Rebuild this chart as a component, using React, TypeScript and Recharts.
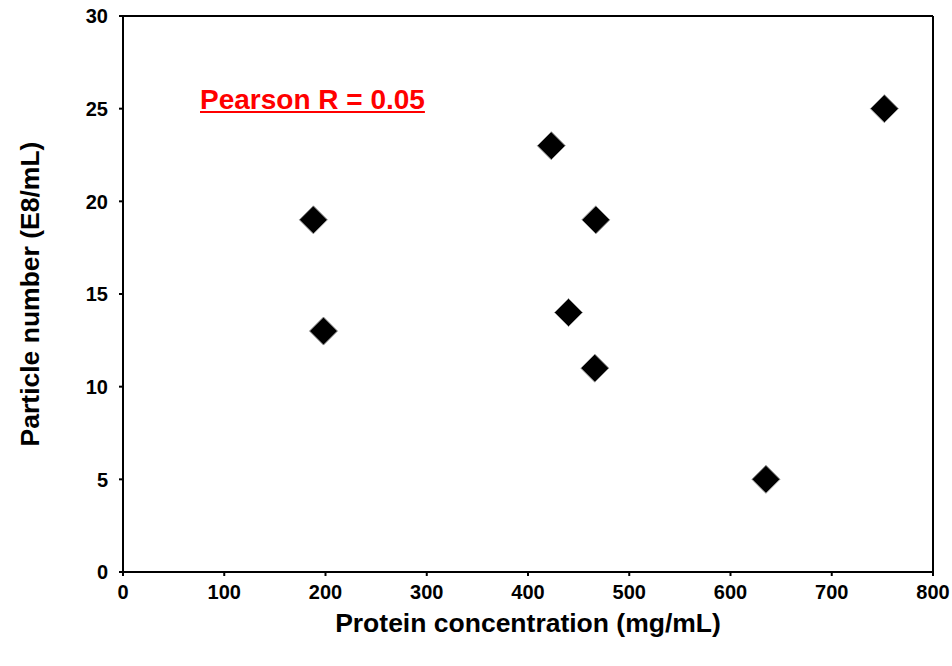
import {
  ScatterChart,
  Scatter,
  XAxis,
  YAxis,
  ReferenceLine,
} from "recharts";

// values
const proteinConc = [188, 198, 423, 467, 440, 466, 635, 752];
const particleNum = [19, 13, 23, 19, 14, 11, 5, 25];

const xTicks = [0, 100, 200, 300, 400, 500, 600, 700, 800];
const yTicks = [0, 5, 10, 15, 20, 25, 30];

const points = proteinConc.map((x, i) => ({ x, y: particleNum[i] }));

const font = "'Liberation Sans', Arial, sans-serif";

const XTick = (props: any) => (
  <text
    x={props.x}
    y={props.y}
    dy="0.71em"
    textAnchor="middle"
    fill="#000"
    style={{ fontSize: 20, fontWeight: 700, fontFamily: font }}
  >
    {props.payload.value}
  </text>
);

const YTick = (props: any) => (
  <text
    x={props.x}
    y={props.y}
    dy="0.36em"
    textAnchor="end"
    fill="#000"
    style={{ fontSize: 20, fontWeight: 700, fontFamily: font }}
  >
    {props.payload.value}
  </text>
);

// square diamond marker, centered on the scaled point
const Diamond = (props: any) => {
  const { cx, cy } = props;
  const r = 14;
  return (
    <polygon
      points={`${cx},${cy - r} ${cx + r},${cy} ${cx},${cy + r} ${cx - r},${cy}`}
      fill="#000"
      stroke="#999"
      strokeWidth={1}
    />
  );
};

export default function App() {
  return (
    <div style={{ position: "absolute", left: 0, top: 0, width: 952, height: 666, background: "#fff" }}>
      <ScatterChart
        width={952}
        height={666}
        margin={{ top: 16, right: 19, bottom: 34, left: 17 }}
      >
        <XAxis
          type="number"
          dataKey="x"
          domain={[0, 800]}
          ticks={xTicks}
          height={60}
          tick={XTick}
          tickSize={4}
          tickMargin={9}
          axisLine={{ stroke: "#000", strokeWidth: 2 }}
          tickLine={{ stroke: "#000", strokeWidth: 2 }}
          label={{
            value: "Protein concentration (mg/mL)",
            position: "insideBottom",
            offset: 0,
            style: { fill: "#000", fontSize: 26.5, fontWeight: 700, fontFamily: font },
          }}
        />
        <YAxis
          type="number"
          dataKey="y"
          domain={[0, 30]}
          ticks={yTicks}
          width={106}
          tick={YTick}
          tickSize={4}
          tickMargin={11}
          axisLine={{ stroke: "#000", strokeWidth: 2 }}
          tickLine={{ stroke: "#000", strokeWidth: 2 }}
          label={{
            value: "Particle number (E8/mL)",
            angle: -90,
            position: "insideLeft",
            offset: 13,
            style: { fill: "#000", fontSize: 26.5, fontWeight: 700, fontFamily: font, textAnchor: "middle" },
          }}
        />
        <ReferenceLine y={30} stroke="#000" strokeWidth={2} />
        <ReferenceLine x={800} stroke="#000" strokeWidth={2} />
        <Scatter data={points} shape={Diamond} isAnimationActive={false} />
      </ScatterChart>
      <div
        style={{
          position: "absolute",
          left: 200,
          top: 83,
          color: "#ff0000",
          fontFamily: font,
          fontWeight: 700,
          fontSize: 28,
          lineHeight: "34px",
          textDecoration: "underline",
          whiteSpace: "nowrap",
        }}
      >
        Pearson R = 0.05
      </div>
    </div>
  );
}
